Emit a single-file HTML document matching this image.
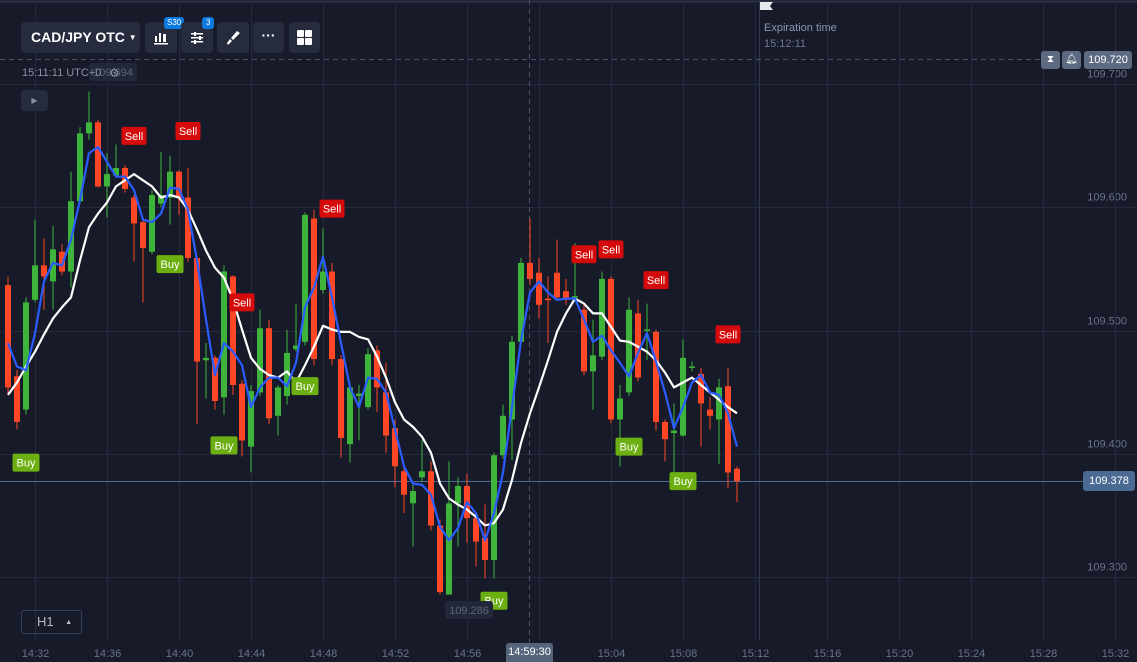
<!DOCTYPE html>
<html><head><meta charset="utf-8">
<style>
html,body{margin:0;padding:0;background:#161a29;overflow:hidden}
body{width:1137px;height:662px;position:relative;font-family:"Liberation Sans",sans-serif}
svg{position:absolute;left:0;top:0}
.btn{position:absolute;background:#262c3e;border-radius:4px;color:#fff}
</style></head>
<body>
<svg id="chart" width="1137" height="662"></svg>

<div class="btn" style="left:21px;top:22px;width:119px;height:31px;font-weight:bold;font-size:14px;line-height:31px;padding-left:10px;box-sizing:border-box;white-space:nowrap">CAD/JPY OTC <span style="font-size:8px;vertical-align:2px">▼</span></div>
<div class="btn" style="left:145px;top:22px;width:32px;height:31px">
  <svg width="32" height="31" style="position:relative"><g fill="#fff"><rect x="10" y="14" width="2" height="6"/><rect x="14" y="11" width="2" height="9"/><rect x="18" y="12" width="3" height="8"/><rect x="9" y="21" width="14" height="1.5"/></g></svg>
  <div style="position:absolute;left:19px;top:-5px;background:#0b7be0;border-radius:3px;font-size:8px;padding:1px 3px;line-height:10px">S30</div>
</div>
<div class="btn" style="left:181px;top:22px;width:32px;height:31px">
  <svg width="32" height="31" style="position:relative"><g fill="#fff"><rect x="10" y="11" width="12" height="1.5"/><rect x="10" y="15" width="12" height="1.5"/><rect x="10" y="19" width="12" height="1.5"/><rect x="13" y="10" width="2" height="4"/><rect x="18" y="14" width="2" height="4"/><rect x="13" y="18" width="2" height="4"/></g></svg>
  <div style="position:absolute;left:21px;top:-5px;background:#0b7be0;border-radius:3px;font-size:8px;padding:1px 4px;line-height:10px">3</div>
</div>
<div class="btn" style="left:217px;top:22px;width:32px;height:31px">
  <svg width="32" height="31" style="position:relative"><path d="M20 9 L23 11 L16 18 L14 16 Z M13 17 L15 19 L11 23 L10 21 Z" fill="#fff"/></svg>
</div>
<div class="btn" style="left:253px;top:22px;width:31px;height:31px;text-align:center;font-size:14px;line-height:26px;font-weight:bold">···</div>
<div class="btn" style="left:289px;top:22px;width:31px;height:31px">
  <svg width="31" height="31" style="position:relative"><g fill="#fff"><rect x="8" y="8" width="7" height="7" rx="1"/><rect x="16" y="8" width="7" height="7" rx="1"/><rect x="8" y="16" width="7" height="7" rx="1"/><rect x="16" y="16" width="7" height="7" rx="1"/></g></svg>
</div>
<div style="position:absolute;left:22px;top:67px;color:#8b91a3;font-size:11px">15:11:11 UTC+0</div>
<div style="position:absolute;left:109px;top:66px;color:#8b91a3;font-size:12px">⚙</div>
<div class="btn" style="left:21px;top:90px;width:27px;height:21px;color:#8b91a3;font-size:8px;text-align:center;line-height:21px">▶</div>
<div style="position:absolute;left:764px;top:20px;color:#8b95b0;font-size:11px;line-height:16px">Expiration time<br><span style="color:#6f778a">15:12:11</span></div>
<div style="position:absolute;left:1041px;top:51px;width:19px;height:18px;background:#5d6a80;border-radius:3px;color:#fff;font-size:10px;text-align:center;line-height:18px">⧗</div>
<div style="position:absolute;left:1062px;top:51px;width:19px;height:18px;background:#5d6a80;border-radius:3px;color:#fff;font-size:10px;text-align:center;line-height:18px">🔔︎</div>
<div style="position:absolute;left:1084px;top:51px;width:48px;height:18px;background:#5d6a80;border-radius:3px;color:#fff;font-size:11px;text-align:center;line-height:18px">109.720</div>
<div style="position:absolute;left:1083px;top:471px;width:52px;height:20px;background:#4a6a93;border-radius:3px;color:#fff;font-size:11px;text-align:center;line-height:20px">109.378</div>
<div style="position:absolute;left:21px;top:610px;width:61px;height:24px;border:1px solid #36425a;border-radius:3px;box-sizing:border-box;color:#b5bccb;font-size:13px;line-height:22px;padding-left:15px">H1 <span style="font-size:7px;margin-left:8px;vertical-align:2px">▲</span></div>
<div style="position:absolute;left:506px;top:643px;width:47px;height:19px;background:#55647a;border-radius:3px 3px 0 0;color:#fff;font-size:11px;text-align:center;line-height:19px">14:59:30</div>

<script>
const opens  =[109.537,109.463,109.436,109.525,109.553,109.540,109.564,109.548,109.605,109.660,109.669,109.617,109.626,109.632,109.608,109.588,109.564,109.603,109.608,109.629,109.608,109.559,109.476,109.478,109.446,109.544,109.457,109.406,109.450,109.502,109.431,109.447,109.485,109.491,109.591,109.533,109.548,109.477,109.408,109.447,109.438,109.484,109.450,109.421,109.386,109.360,109.381,109.386,109.342,109.286,109.360,109.374,109.348,109.332,109.314,109.399,109.428,109.491,109.555,109.547,109.526,109.547,109.532,109.527,109.517,109.467,109.479,109.542,109.428,109.450,109.514,109.500,109.499,109.426,109.417,109.415,109.470,109.465,109.436,109.428,109.455,109.388];
const closes =[109.454,109.426,109.523,109.553,109.544,109.566,109.548,109.605,109.660,109.669,109.617,109.627,109.632,109.615,109.587,109.567,109.610,109.610,109.629,109.608,109.559,109.475,109.478,109.443,109.548,109.456,109.411,109.451,109.502,109.429,109.454,109.482,109.488,109.594,109.477,109.548,109.477,109.413,109.454,109.449,109.481,109.454,109.415,109.390,109.367,109.370,109.386,109.342,109.288,109.360,109.374,109.348,109.329,109.314,109.399,109.431,109.491,109.555,109.542,109.521,109.525,109.527,109.525,109.528,109.467,109.480,109.542,109.428,109.445,109.517,109.462,109.501,109.426,109.412,109.419,109.478,109.471,109.441,109.431,109.454,109.385,109.378];
const highs  =[109.544,109.468,109.527,109.590,109.575,109.585,109.570,109.629,109.665,109.694,109.671,109.644,109.651,109.634,109.610,109.590,109.614,109.645,109.642,109.630,109.632,109.561,109.490,109.480,109.553,109.545,109.460,109.456,109.517,109.509,109.456,109.501,109.522,109.596,109.598,109.583,109.555,109.480,109.458,109.456,109.486,109.488,109.474,109.428,109.391,109.375,109.411,109.394,109.347,109.394,109.381,109.384,109.351,109.359,109.401,109.440,109.496,109.559,109.591,109.559,109.544,109.574,109.542,109.571,109.521,109.509,109.548,109.544,109.456,109.527,109.525,109.522,109.501,109.428,109.441,109.493,109.475,109.470,109.446,109.461,109.470,109.390];
const lows   =[109.448,109.420,109.432,109.523,109.517,109.517,109.545,109.535,109.603,109.655,109.616,109.592,109.624,109.612,109.556,109.523,109.562,109.600,109.586,109.594,109.556,109.424,109.445,109.436,109.432,109.448,109.398,109.385,109.447,109.424,109.415,109.440,109.483,109.488,109.472,109.530,109.472,109.397,109.393,109.411,109.436,109.434,109.401,109.373,109.352,109.325,109.377,109.338,109.286,109.286,109.325,109.328,109.309,109.299,109.299,109.396,109.395,109.488,109.537,109.510,109.490,109.525,109.521,109.525,109.464,109.436,109.476,109.425,109.390,109.447,109.459,109.476,109.419,109.394,109.385,109.414,109.467,109.406,109.420,109.392,109.372,109.361];
const fastMA =[109.490,109.471,109.468,109.498,109.540,109.555,109.553,109.574,109.606,109.644,109.649,109.637,109.625,109.625,109.614,109.590,109.588,109.595,109.616,109.615,109.598,109.557,109.509,109.464,109.490,109.483,109.472,109.438,109.454,109.462,109.462,109.455,109.474,109.519,109.535,109.560,109.527,109.490,109.454,109.438,109.462,109.461,109.450,109.420,109.390,109.376,109.375,109.367,109.341,109.330,109.340,109.361,109.352,109.330,109.352,109.385,109.438,109.492,109.531,109.540,109.531,109.525,109.526,109.526,109.509,109.491,109.496,109.484,109.474,109.463,109.482,109.498,109.475,109.450,109.421,109.438,109.458,109.464,109.450,109.448,109.433,109.406];
const slowMA =[109.448,109.458,109.471,109.483,109.497,109.510,109.519,109.527,109.557,109.584,109.595,109.604,109.617,109.622,109.627,109.622,109.617,109.608,109.610,109.608,109.598,109.582,109.565,109.551,109.543,109.525,109.501,109.478,109.469,109.464,109.462,109.467,109.458,109.472,109.487,109.504,109.501,109.499,109.499,109.495,109.493,109.479,109.462,109.442,109.428,109.422,109.414,109.401,109.376,109.364,109.359,109.355,109.349,109.342,109.344,109.355,109.379,109.409,109.433,109.454,109.476,109.499,109.514,109.526,109.522,109.514,109.514,109.503,109.492,109.491,109.487,109.483,109.476,109.466,109.454,109.458,109.462,109.456,109.450,109.444,109.438,109.433];
const sellIdx   =[14,20,26,36,64,67,72,80];
const sellPrice =[109.658,109.662,109.523,109.599,109.562,109.566,109.541,109.497];
const buyIdx    =[2,18,24,33,54,69,75];
const buyPrice  =[109.393,109.554,109.407,109.455,109.281,109.406,109.378];
const priceTicks=[109.700,109.600,109.500,109.400,109.300];
const timeTicks =["14:32","14:36","14:40","14:44","14:48","14:52","14:56","15:00","15:04","15:08","15:12","15:16","15:20","15:24","15:28","15:32"];
const currentPrice=109.378, pendingPrice=109.720;

const NS='http://www.w3.org/2000/svg';
const svg=document.getElementById('chart');
function yOf(p){return 454-(p-109.4)*1233;}
function xOf(i){return 8+9*i;}
function tickX(k){return 35+72*k;}
function mk(tag,attrs,parent){const e=document.createElementNS(NS,tag);for(const k in attrs)e.setAttribute(k,attrs[k]);(parent||svg).appendChild(e);return e;}

mk('line',{x1:0,y1:1.5,x2:1137,y2:1.5,stroke:'#2d3346','stroke-width':2});
priceTicks.forEach(p=>{
  const y=Math.round(yOf(p))+0.5;
  const g=mk('line',{x1:0,y1:y,x2:1137,y2:y,stroke:'#242a3b','stroke-width':1});
  
  
  const t=mk('text',{x:1127,y:y-7,'text-anchor':'end',fill:'#6d7486','font-size':11,'font-family':'Liberation Sans, sans-serif'});
  t.textContent=p.toFixed(3);
  
  
});
timeTicks.forEach((s,k)=>{
  const x=tickX(k)+0.5;
  const g=mk('line',{x1:x,y1:0,x2:x,y2:640,stroke:'#242a3b','stroke-width':1});
  
  
  if(s==='15:00')return;
  const t=mk('text',{x:x,y:657,'text-anchor':'middle',fill:'#6d7486','font-size':11,'font-family':'Liberation Sans, sans-serif'});
  t.textContent=s;
  
  
});
mk('line',{x1:759.5,y1:0,x2:759.5,y2:640,stroke:'#2f3850','stroke-width':1});
const flag=mk('path',{d:'M760 2 L773 2 L770 6 L773 10 L760 10 Z',fill:'#e6e8ee'});


mk('line',{x1:529.5,y1:0,x2:529.5,y2:643,stroke:'#4a5266','stroke-width':1,'stroke-dasharray':'5,4'});
const py=Math.round(yOf(pendingPrice))+0.5;
mk('line',{x1:0,y1:py,x2:1040,y2:py,stroke:'#4a5266','stroke-width':1,'stroke-dasharray':'5,4'});
const cy=Math.round(yOf(currentPrice))+0.5;
const cl=mk('line',{x1:0,y1:cy,x2:1083,y2:cy,stroke:'#4a6a93','stroke-width':1});



opens.forEach((o,i)=>{
  const c=closes[i],up=c>=o,col=up?'#3fb43a':'#ff4725';
  const x=xOf(i);
  const w=mk('line',{x1:x,y1:yOf(highs[i]),x2:x,y2:yOf(lows[i]),stroke:col,'stroke-width':1});
  
  
  const top=yOf(Math.max(o,c)),bot=yOf(Math.min(o,c));
  const b=mk('rect',{x:x-3,y:top,width:6,height:Math.max(1.5,bot-top),fill:col});
  
  
});
function line(arr,col,w,name){
  const d=arr.map((v,i)=>(i?'L':'M')+xOf(i)+' '+yOf(v).toFixed(1)).join(' ');
  const p=mk('path',{d:d,fill:'none',stroke:col,'stroke-width':w,'stroke-linejoin':'round'});
  
  
}
line(slowMA,'#ffffff',2.2,'slow-ma-line');
line(fastMA,'#2a5cff',2.2,'fast-ma-line');

function label(i,p,txt,bg,w){
  const x=xOf(i),y=yOf(p);
  const r=mk('rect',{x:x-w/2,y:y-9,width:w,height:18,rx:2,fill:bg});
  
  
  const t=mk('text',{x:x,y:y+4,'text-anchor':'middle',fill:'#fff','font-size':11,'font-family':'Liberation Sans, sans-serif'});
  t.textContent=txt;
  
  
}
sellIdx.forEach((i,k)=>label(i,sellPrice[k],'Sell','#d50a0a',25));
buyIdx.forEach((i,k)=>label(i,buyPrice[k],'Buy','#6caf10',27));

function hl(txt,x,y){
  const r=mk('rect',{x:x-24,y:y-9,width:48,height:18,rx:3,fill:'#222839'});
  
  
  const t=mk('text',{x:x,y:y+4,'text-anchor':'middle',fill:'#5d6478','font-size':11,'font-family':'Liberation Sans, sans-serif'});
  t.textContent=txt;
  
  
}
hl(Math.max(...highs).toFixed(3),113,72);
hl(Math.min(...lows).toFixed(3),469,610);
</script>
</body></html>
